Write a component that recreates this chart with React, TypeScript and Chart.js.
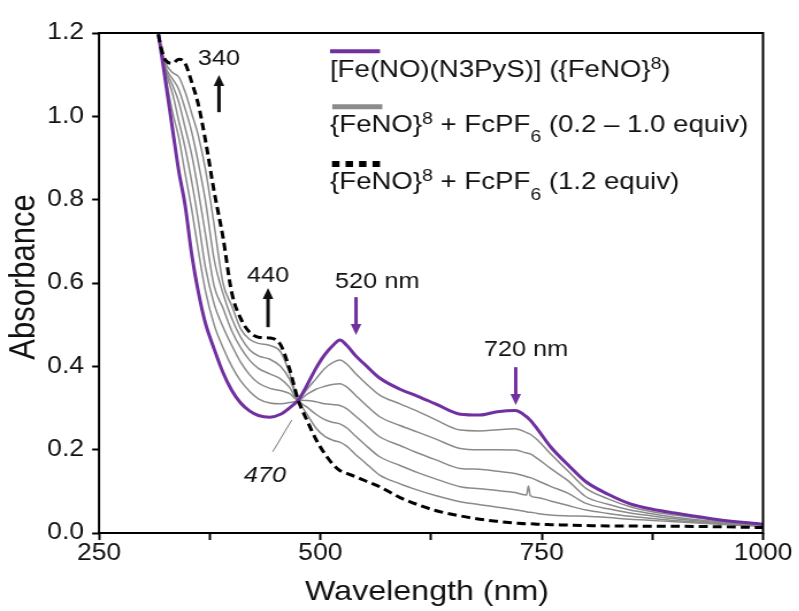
import React, { useEffect, useRef } from "react";
import { Chart, registerables } from "chart.js";

Chart.register(...registerables);

// ---- data (wavelength in nm, absorbance) ----
const wavelengths = [305, 317, 325, 333, 340, 347, 355, 362, 370, 380, 390, 400, 410, 420, 430, 443, 455, 465, 475, 485, 495, 505, 515, 522, 530, 540, 550, 567, 590, 610, 630, 658, 680, 700, 720, 733, 735, 737, 745, 760, 780, 800, 825, 850, 875, 900, 950, 1000];

const feno8 = [1.36, 1.2, 1.085, 0.97, 0.87, 0.79, 0.665, 0.58, 0.505, 0.442, 0.385, 0.342, 0.312, 0.293, 0.282, 0.278, 0.285, 0.3, 0.319, 0.355, 0.395, 0.428, 0.452, 0.463, 0.45, 0.425, 0.405, 0.372, 0.345, 0.328, 0.31, 0.285, 0.283, 0.291, 0.294, 0.279, 0.275, 0.271, 0.25, 0.207, 0.163, 0.123, 0.093, 0.07, 0.057, 0.048, 0.032, 0.021];

const fc02 = [1.36, 1.198, 1.1, 1.01, 0.95, 0.866, 0.773, 0.68, 0.583, 0.5, 0.445, 0.4, 0.365, 0.34, 0.322, 0.312, 0.31, 0.313, 0.319, 0.345, 0.37, 0.395, 0.41, 0.415, 0.405, 0.382, 0.362, 0.331, 0.31, 0.292, 0.272, 0.247, 0.245, 0.248, 0.25, 0.241, 0.239, 0.237, 0.224, 0.19, 0.148, 0.107, 0.082, 0.063, 0.051, 0.043, 0.03, 0.02];

const fc04 = [1.37, 1.199, 1.11, 1.055, 0.99, 0.927, 0.84, 0.752, 0.64, 0.55, 0.495, 0.45, 0.41, 0.38, 0.36, 0.347, 0.342, 0.335, 0.319, 0.333, 0.345, 0.352, 0.357, 0.358, 0.35, 0.33, 0.31, 0.279, 0.258, 0.242, 0.226, 0.203, 0.2, 0.2, 0.199, 0.192, 0.191, 0.19, 0.179, 0.155, 0.125, 0.087, 0.069, 0.055, 0.046, 0.038, 0.027, 0.019];

const fc06 = [1.38, 1.2, 1.115, 1.075, 1.035, 0.975, 0.905, 0.823, 0.72, 0.593, 0.54, 0.485, 0.445, 0.415, 0.395, 0.382, 0.37, 0.35, 0.319, 0.318, 0.315, 0.31, 0.308, 0.306, 0.298, 0.28, 0.262, 0.231, 0.21, 0.192, 0.176, 0.155, 0.153, 0.148, 0.143, 0.135, 0.134, 0.133, 0.126, 0.112, 0.095, 0.071, 0.058, 0.048, 0.041, 0.034, 0.025, 0.018];

const fc08 = [1.39, 1.2, 1.12, 1.09, 1.065, 1.02, 0.96, 0.89, 0.8, 0.657, 0.575, 0.515, 0.47, 0.44, 0.425, 0.417, 0.4, 0.37, 0.319, 0.302, 0.285, 0.272, 0.265, 0.262, 0.252, 0.232, 0.213, 0.183, 0.162, 0.145, 0.13, 0.111, 0.106, 0.102, 0.097, 0.091, 0.113, 0.09, 0.085, 0.077, 0.066, 0.055, 0.047, 0.04, 0.035, 0.03, 0.023, 0.017];

const fc10 = [1.4, 1.2, 1.13, 1.105, 1.095, 1.06, 1.005, 0.955, 0.875, 0.74, 0.6, 0.545, 0.49, 0.465, 0.455, 0.45, 0.435, 0.385, 0.319, 0.285, 0.252, 0.232, 0.222, 0.218, 0.208, 0.188, 0.17, 0.139, 0.118, 0.103, 0.09, 0.075, 0.068, 0.062, 0.056, 0.051, 0.05, 0.05, 0.047, 0.043, 0.041, 0.04, 0.037, 0.033, 0.03, 0.027, 0.021, 0.016];

const fc12 = [1.4, 1.198, 1.135, 1.127, 1.137, 1.128, 1.08, 1.03, 0.945, 0.82, 0.71, 0.576, 0.515, 0.482, 0.47, 0.468, 0.452, 0.395, 0.319, 0.27, 0.225, 0.19, 0.163, 0.15, 0.143, 0.135, 0.126, 0.111, 0.085, 0.068, 0.054, 0.041, 0.033, 0.028, 0.024, 0.022, 0.022, 0.022, 0.021, 0.02, 0.019, 0.018, 0.017, 0.017, 0.016, 0.016, 0.015, 0.013];

const xTicks = [250, 375, 500, 625, 750, 875, 1000];
const xTickLabels = ["250", "", "500", "", "750", "", "1000"];
const yTicks = [0, 0.2, 0.4, 0.6, 0.8, 1.0, 1.2];
const yTickLabels = ["0.0", "0.2", "0.4", "0.6", "0.8", "1.0", "1.2"];

// ---- layout / style ----
const S = 1.15; // horizontal stretch of the original figure
const W = 695;
const H = 611;
const X = (rx: number) => rx / S;
const FONT = '"Liberation Sans", Arial, Helvetica, sans-serif';
const PURPLE = "#7030A0";
const GRAY = "#8a8a8a";
const INK = "#111";

type Part = { t: string; sup?: boolean; sub?: boolean };

function drawRich(ctx: CanvasRenderingContext2D, parts: Part[], x: number, y: number, size: number) {
  let cx = x;
  for (const p of parts) {
    const s = p.sup || p.sub ? Math.round(size * 0.7) : size;
    ctx.font = `${s}px ${FONT}`;
    const dy = p.sup ? -size * 0.33 : p.sub ? size * 0.45 : 0;
    ctx.fillText(p.t, cx, y + dy);
    cx += ctx.measureText(p.t).width;
  }
}

function arrow(ctx: CanvasRenderingContext2D, x: number, yTail: number, yHead: number, color: string) {
  const dir = yHead < yTail ? -1 : 1;
  const hh = 11;
  const hw = 4.6;
  ctx.strokeStyle = color;
  ctx.fillStyle = color;
  ctx.lineWidth = 3;
  ctx.setLineDash([]);
  ctx.beginPath();
  ctx.moveTo(x, yTail);
  ctx.lineTo(x, yHead - dir * hh * 0.8);
  ctx.stroke();
  ctx.beginPath();
  ctx.moveTo(x, yHead);
  ctx.lineTo(x - hw, yHead - dir * hh);
  ctx.lineTo(x + hw, yHead - dir * hh);
  ctx.closePath();
  ctx.fill();
}

const decor = {
  id: "decor",
  afterDraw(chart: any) {
    const { ctx, chartArea: a, scales } = chart;
    const px = (v: number) => scales.x.getPixelForValue(v);
    const py = (v: number) => scales.y.getPixelForValue(v);
    ctx.save();
    // frame
    ctx.strokeStyle = "#000";
    ctx.lineWidth = 2;
    ctx.setLineDash([]);
    ctx.strokeRect(a.left, a.top, a.right - a.left, a.bottom - a.top);

    // axis titles
    ctx.fillStyle = INK;
    ctx.textAlign = "center";
    ctx.textBaseline = "alphabetic";
    ctx.font = `28px ${FONT}`;
    ctx.fillText("Wavelength (nm)", X(427), 600);
    ctx.save();
    ctx.translate(X(35), 277);
    ctx.rotate(-Math.PI / 2);
    ctx.font = `31px ${FONT}`;
    ctx.fillText("Absorbance", 0, 0);
    ctx.restore();

    // annotations
    ctx.font = `22px ${FONT}`;
    ctx.textAlign = "center";
    ctx.fillStyle = INK;
    ctx.fillText("340", px(385.5), py(1.123));
    arrow(ctx, px(385.5), py(1.01), py(1.099), INK);
    ctx.fillStyle = INK;
    ctx.fillText("440", px(440.9), py(0.602));
    arrow(ctx, px(440.9), py(0.494), py(0.588), INK);
    ctx.fillStyle = INK;
    ctx.textAlign = "left";
    ctx.fillText("520 nm", px(516.6), py(0.588));
    arrow(ctx, px(540.3), py(0.566), py(0.475), PURPLE);
    ctx.fillStyle = INK;
    ctx.textAlign = "center";
    ctx.fillText("720 nm", px(732.3), py(0.425));
    arrow(ctx, px(720.7), py(0.398), py(0.307), PURPLE);
    ctx.fillStyle = INK;
    ctx.font = `italic 22px ${FONT}`;
    ctx.fillText("470", px(437.5), py(0.122));
    ctx.strokeStyle = "#777";
    ctx.lineWidth = 1;
    ctx.beginPath();
    ctx.moveTo(px(446.2), py(0.195));
    ctx.lineTo(px(467.7), py(0.271));
    ctx.stroke();

    // legend
    const lx = X(330);
    const lw = X(50);
    ctx.lineCap = "butt";
    ctx.strokeStyle = PURPLE;
    ctx.lineWidth = 4;
    ctx.beginPath();
    ctx.moveTo(lx, 51.3);
    ctx.lineTo(lx + lw, 51.3);
    ctx.stroke();
    ctx.strokeStyle = "#8c8c8c";
    ctx.lineWidth = 5;
    ctx.beginPath();
    ctx.moveTo(lx + 2, 106.7);
    ctx.lineTo(lx + 2 + lw, 106.7);
    ctx.stroke();
    ctx.strokeStyle = "#000";
    ctx.lineWidth = 6;
    ctx.setLineDash([X(7.5), X(6)]);
    ctx.beginPath();
    ctx.moveTo(X(332), 164);
    ctx.lineTo(X(380), 164);
    ctx.stroke();
    ctx.setLineDash([]);

    ctx.fillStyle = INK;
    ctx.textAlign = "left";
    const fs = 24;
    drawRich(ctx, [{ t: "[Fe(NO)(N3PyS)] ({FeNO}" }, { t: "8", sup: true }, { t: ")" }], lx, 77, fs);
    drawRich(ctx, [{ t: "{FeNO}" }, { t: "8", sup: true }, { t: " + FcPF" }, { t: "6", sub: true }, { t: " (0.2 \u2013 1.0 equiv)" }], lx, 131.5, fs);
    drawRich(ctx, [{ t: "{FeNO}" }, { t: "8", sup: true }, { t: " + FcPF" }, { t: "6", sub: true }, { t: " (1.2 equiv)" }], lx, 189, fs);
    ctx.restore();
  },
};

function series(values: number[], color: string, width: number, dash?: number[]) {
  return {
    data: wavelengths.map((w, i) => ({ x: w, y: values[i] })),
    borderColor: color,
    borderWidth: width,
    borderDash: dash || [],
    pointRadius: 0,
    fill: false,
    cubicInterpolationMode: "monotone" as const,
    clip: 0,
  };
}

export default function App() {
  const ref = useRef<HTMLCanvasElement | null>(null);
  useEffect(() => {
    if (!ref.current) return;
    const chart = new Chart(ref.current, {
      type: "line",
      data: {
        datasets: [
          { label: "{FeNO}8 + FcPF6 (1.2 equiv)", ...series(fc12, "#000", 3, [X(9), X(5)]) },
          { label: "[Fe(NO)(N3PyS)] ({FeNO}8)", ...series(feno8, PURPLE, 3) },
          { label: "1.0 equiv", ...series(fc10, GRAY, 1.5) },
          { label: "0.8 equiv", ...series(fc08, GRAY, 1.5) },
          { label: "0.6 equiv", ...series(fc06, GRAY, 1.5) },
          { label: "0.4 equiv", ...series(fc04, GRAY, 1.5) },
          { label: "0.2 equiv", ...series(fc02, GRAY, 1.5) },
        ] as any,
      },
      options: {
        responsive: false,
        devicePixelRatio: 1,
        animation: false,
        events: [],
        layout: { padding: { left: 0, top: 33, right: W - X(763), bottom: 0 } },
        plugins: { legend: { display: false }, tooltip: { enabled: false } },
        scales: {
          x: {
            type: "linear",
            min: 250,
            max: 1000,
            afterBuildTicks: (s: any) => {
              s.ticks = xTicks.map((v) => ({ value: v }));
            },
            afterFit: (s: any) => {
              s.height = H - 533;
            },
            ticks: {
              autoSkip: false,
              maxRotation: 0,
              padding: 0,
              color: INK,
              font: { family: FONT, size: 23 },
              callback: (v: any) => xTickLabels[xTicks.indexOf(Number(v))] ?? "",
            },
            grid: { drawOnChartArea: false, drawTicks: true, tickLength: 7, tickWidth: 2, tickColor: "#000" },
            border: { display: false },
          },
          y: {
            type: "linear",
            min: 0,
            max: 1.2,
            afterBuildTicks: (s: any) => {
              s.ticks = yTicks.map((v) => ({ value: v }));
            },
            afterFit: (s: any) => {
              s.width = X(99);
            },
            ticks: {
              padding: 7,
              color: INK,
              font: { family: FONT, size: 23 },
              callback: (v: any) => {
                const i = yTicks.findIndex((t) => Math.abs(t - Number(v)) < 1e-6);
                return i >= 0 ? yTickLabels[i] : "";
              },
            },
            grid: { drawOnChartArea: false, drawTicks: true, tickLength: 6, tickWidth: 2, tickColor: "#000" },
            border: { display: false },
          },
        },
      },
      plugins: [decor],
    });
    return () => chart.destroy();
  }, []);

  return (
    <div style={{ position: "fixed", left: 0, top: 0, width: 799, height: 611, overflow: "hidden", background: "#fff" }}>
      <div style={{ width: W, height: H, transform: `scaleX(${S})`, transformOrigin: "0 0" }}>
        <canvas ref={ref} width={W} height={H} style={{ display: "block", width: W, height: H }} />
      </div>
    </div>
  );
}
